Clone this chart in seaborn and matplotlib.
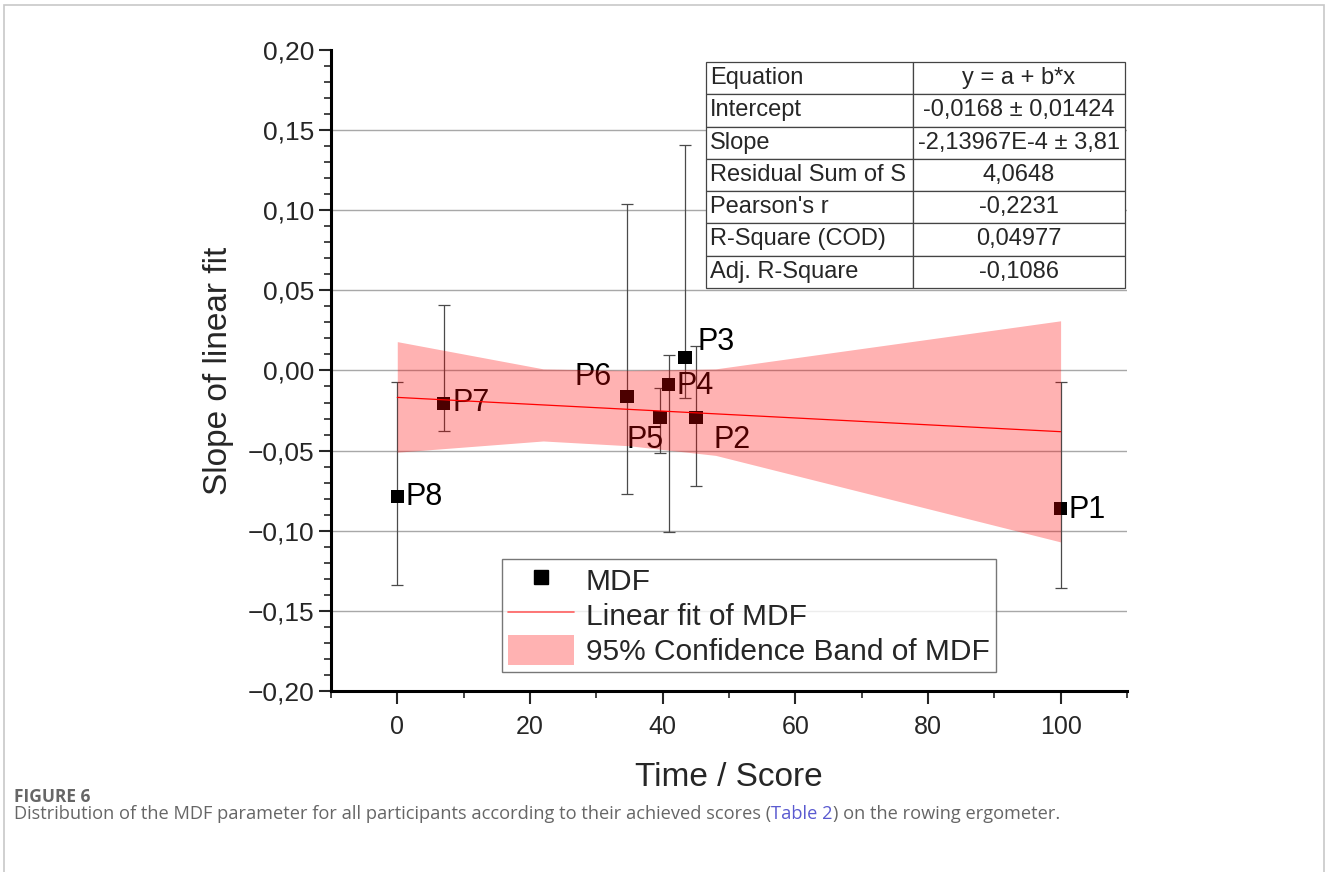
import matplotlib
matplotlib.use("Agg")
import matplotlib.pyplot as plt
from matplotlib.patches import Rectangle, Patch
from matplotlib.lines import Line2D
from matplotlib.ticker import MultipleLocator, FuncFormatter
import seaborn as sns
import pandas as pd

# participants, score (x) and MDF slope (y) with error bar ends
labels = ["P1", "P2", "P3", "P4", "P5", "P6", "P7", "P8"]
score = [100, 45.0, 43.4, 40.9, 39.6, 34.6, 7.0, 0.0]
mdf = [-0.0861, -0.0293, 0.0081, -0.0087, -0.0293, -0.0162, -0.0206, -0.0787]
err_hi = [-0.0069, 0.0152, 0.1405, 0.0094, -0.0112, 0.104, 0.0406, -0.0069]
err_lo = [-0.1355, -0.0724, -0.0169, -0.1005, -0.0518, -0.0768, -0.0375, -0.134]

# linear fit (from the table) and 95% band edges
intercept = -0.0168
slope = -2.13967e-4
fit_x = [0, 100]
band_x = [0, 22, 35, 48, 100]
band_hi = [0.018, 0.001, 0.0, 0.001, 0.031]
band_lo = [-0.051, -0.044, -0.047, -0.053, -0.107]

table_rows = [
    ["Equation", "y = a + b*x"],
    ["Intercept", "-0,0168 \u00b1 0,01424"],
    ["Slope", "-2,13967E-4 \u00b1 3,81"],
    ["Residual Sum of S", "4,0648"],
    ["Pearson's r", "-0,2231"],
    ["R-Square (COD)", "0,04977"],
    ["Adj. R-Square", "-0,1086"],
]

# label offsets in points (dx, dy, ha)
label_pos = {
    "P1": (6, -1, "left"), "P2": (13, -16, "left"), "P3": (9, 11, "left"),
    "P4": (6, -1, "left"), "P5": (-24, -16, "left"), "P6": (-11, 14, "right"),
    "P7": (6, 0, "left"), "P8": (6, 0, "left"),
}

sns.set_style("white")
plt.rcParams["font.family"] = ["Liberation Sans", "DejaVu Sans"]

df = pd.DataFrame({"label": labels, "score": score, "mdf": mdf})
fit_df = pd.DataFrame({"x": fit_x, "y": [intercept + slope * v for v in fit_x]})

fig = plt.figure(figsize=(13.28, 8.72), dpi=100)
ax = fig.add_axes([0.2492, 0.2076, 0.5994, 0.7351])

for gy in [-0.15, -0.10, -0.05, 0.0, 0.05, 0.10, 0.15]:
    ax.axhline(gy, color="#a8a8a8", lw=1.0, zorder=0)

# error bars
for x, y, lo, hi in zip(score, mdf, err_lo, err_hi):
    ax.errorbar(x, y, yerr=[[y - lo], [hi - y]], fmt="none", ecolor="#4a4a4a",
                elinewidth=0.9, capsize=4, capthick=0.9, zorder=1)

sns.scatterplot(data=df, x="score", y="mdf", marker="s", s=95, color="black",
                edgecolor="none", ax=ax, zorder=2, legend=False)

for lab, x, y in zip(labels, score, mdf):
    dx, dy, ha = label_pos[lab]
    ax.annotate(lab, (x, y), xytext=(dx, dy), textcoords="offset points",
                ha=ha, va="center", fontsize=22, color="black", zorder=3)

ax.fill_between(band_x, band_lo, band_hi, color="red", alpha=0.3, lw=0, zorder=4)
sns.lineplot(data=fit_df, x="x", y="y", color="red", lw=0.9, ax=ax, zorder=5)

ax.set_xlim(-10, 110)
ax.set_ylim(-0.20, 0.20)
ax.xaxis.set_major_locator(MultipleLocator(20))
ax.xaxis.set_minor_locator(MultipleLocator(10))
ax.yaxis.set_major_locator(MultipleLocator(0.05))
ax.yaxis.set_minor_locator(MultipleLocator(0.01))
ax.yaxis.set_major_formatter(FuncFormatter(
    lambda v, p: ("\u2212" if v < -1e-9 else "") + f"{abs(v):.2f}".replace(".", ",")))
ax.tick_params(axis="both", which="major", direction="out", length=9, width=1.5,
               left=True, bottom=True)
ax.tick_params(axis="y", which="major", labelsize=19, pad=3)
ax.tick_params(axis="x", which="major", labelsize=18, pad=8)
ax.tick_params(axis="both", which="minor", direction="out", length=5, width=1.2,
               left=True, bottom=True)
for side in ["top", "right"]:
    ax.spines[side].set_visible(False)
for side in ["left", "bottom"]:
    ax.spines[side].set_linewidth(2.2)
    ax.spines[side].set_color("black")

ax.set_xlabel("Time / Score", fontsize=24, labelpad=17)
ax.set_ylabel("Slope of linear fit", fontsize=24, labelpad=10)

tbl = ax.table(cellText=table_rows, colWidths=[0.494, 0.506],
               bbox=[0.471, 0.629, 0.5265, 0.352], zorder=6)
tbl.auto_set_font_size(False)
for (r, c), cell in tbl.get_celld().items():
    cell.set_edgecolor("#444444")
    cell.set_linewidth(0.9)
    cell.set_text_props(fontsize=17)
    cell.get_text().set_ha("left" if c == 0 else "center")
    cell.PAD = 0.02

handles = [
    Line2D([], [], marker="s", ls="none", color="black", markersize=10),
    Line2D([], [], color="#ff6060", lw=1.2),
    Patch(facecolor="red", alpha=0.3, edgecolor="none"),
]
leg = ax.legend(handles, ["MDF", "Linear fit of MDF", "95% Confidence Band of MDF"],
                loc="lower left", bbox_to_anchor=(0.215, 0.0296), borderaxespad=0,
                fontsize=21.5, frameon=True, fancybox=False, edgecolor="#555555",
                handlelength=2.2, handleheight=1.2, labelspacing=0.12,
                borderpad=0.2, handletextpad=0.4)
leg.get_frame().set_linewidth(1.0)
leg.set_zorder(7)

fig.add_artist(Rectangle((4 / 1328, -0.05), (1324 - 4) / 1328, 1.05 - 5 / 872,
                         transform=fig.transFigure, fill=False,
                         edgecolor="#c8c8c8", lw=1.2))
fig.text(14 / 1328, 1 - 797 / 872, "FIGURE 6", fontsize=12.5, color="#666666",
         fontweight="bold", va="center", family=["Open Sans", "DejaVu Sans"])
cap_main = "Distribution of the MDF parameter for all participants according to their achieved scores ("
t1 = fig.text(14 / 1328, 1 - 814 / 872, cap_main, fontsize=13.15, color="#666666",
              va="center", family=["Open Sans", "DejaVu Sans"])
fig.canvas.draw()
bb = t1.get_window_extent()
t2 = fig.text(bb.x1 / 1328, 1 - 814 / 872, "Table 2", fontsize=13.15, color="#5a5ad0",
              va="center", family=["Open Sans", "DejaVu Sans"])
fig.canvas.draw()
bb2 = t2.get_window_extent()
fig.text(bb2.x1 / 1328, 1 - 814 / 872, ") on the rowing ergometer.", fontsize=13.15,
         color="#666666", va="center", family=["Open Sans", "DejaVu Sans"])

fig.savefig("out.png", dpi=100)
